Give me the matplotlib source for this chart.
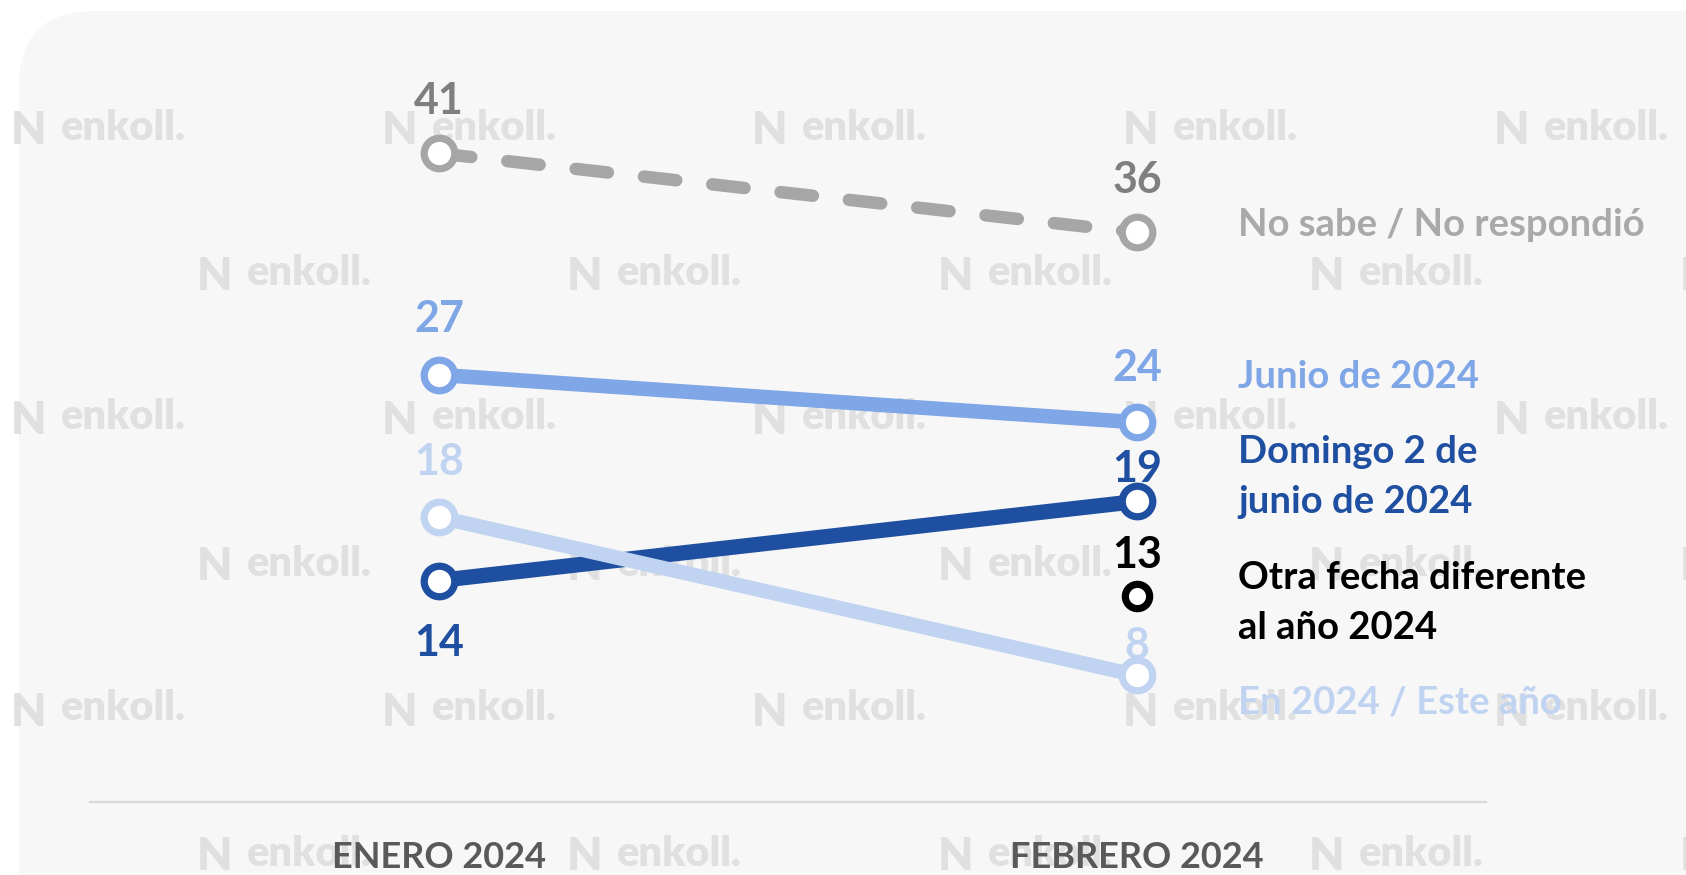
import numpy as np
import matplotlib.pyplot as plt
from matplotlib.patches import FancyBboxPatch

#Data
months = ['ENERO 2024', 'FEBRERO 2024']
no_sabe = [41, 36]
junio = [27, 24]
domingo = [14, 19]
en_2024 = [18, 8]
otra_fecha = [13]

series_names = ['No sabe / No respondió', 'Junio de 2024', 'Domingo 2 de\njunio de 2024',
                'Otra fecha diferente\nal año 2024', 'En 2024 / Este año']

#Colors
c_gray = '#a6a6a6'
c_gray_txt = '#7f7f7f'
c_mid = '#7fa6e6'
c_dark = '#1f4fa0'
c_light = '#c0d4f2'
c_black = '#000000'
bg = '#f7f7f7'

plt.rcParams['font.family'] = ['Lato', 'DejaVu Sans']
plt.rcParams['font.weight'] = 'bold'

W, H = 1686, 875
fig = plt.figure(figsize=(W/100, H/100), dpi=100)
fig.patch.set_facecolor('white')

#Rounded background panel (figure pixels)
panel = FancyBboxPatch((19/W, -0.2), 2.0, 1.2 - 11/H,
                       boxstyle='round,pad=0,rounding_size=0.045',
                       transform=fig.transFigure, facecolor=bg, edgecolor='none',
                       mutation_aspect=W/H, zorder=0)
fig.patches.append(panel)

#Watermarks
rows_y = [-14, 131, 277, 421, 567, 712, 857]
base_cols = [11, 382, 752, 1123, 1494]
offset_cols = [-174, 197, 567, 938, 1309, 1680]
for r, yy in enumerate(rows_y):
    cols = offset_cols if r % 2 == 0 else base_cols
    for xx in cols:
        fig.text(xx/W, 1 - yy/H, 'N', fontsize=33, color='#e0e0e0', ha='left',
                 va='center', fontweight='heavy', zorder=1)
        fig.text((xx + 50)/W, 1 - yy/H + 0.004, 'enkoll.', fontsize=30, color='#e0e0e0',
                 ha='left', va='center', fontweight='heavy', zorder=1)

#Main axes mapped so that x=0 / x=1 land on the two months
ax = fig.add_axes([0, 0, 1, 1], zorder=2)
ax.set_facecolor('none')
ax.set_xlim(-439/698, (W - 439)/698)
ax.set_ylim((802 - H)/15.82, 802/15.82)
ax.axis('off')

x = np.arange(len(months))

#Baseline
ax.plot([-0.5, 1.5], [0, 0], color='#d9d9d9', lw=1.6, zorder=2)

mk = dict(marker='o', markerfacecolor='white', markersize=22, markeredgewidth=5.2)
ax.plot(x, no_sabe, color=c_gray, lw=9, dashes=(2.6, 2.9), dash_capstyle='round',
        markeredgecolor=c_gray, zorder=3, **mk)
ax.plot(x, junio, color=c_mid, lw=10.5, markeredgecolor=c_mid, zorder=3, **mk)
ax.plot(x, domingo, color=c_dark, lw=11, markeredgecolor=c_dark, zorder=3, **mk)
ax.plot(x, en_2024, color=c_light, lw=10.5, markeredgecolor=c_light, zorder=4, **mk)
ax.plot([1], otra_fecha, color=c_black, lw=0, marker='o', markerfacecolor='white',
        markersize=17.5, markeredgewidth=5.2, markeredgecolor=c_black, zorder=5)

#Data labels (offsets in points)
def lab(xv, yv, dy, color):
    ax.annotate(str(yv), (xv, yv), xytext=(0, dy), textcoords='offset points',
                ha='center', va='center', fontsize=31, color=color, fontweight='bold', zorder=6)

lab(0, no_sabe[0], 38, c_gray_txt)
lab(1, no_sabe[1], 38, c_gray_txt)
lab(0, junio[0], 40, c_mid)
lab(1, junio[1], 39, c_mid)
lab(0, en_2024[0], 40, c_light)
lab(1, en_2024[1], 21, c_light)
lab(0, domingo[0], -45, c_dark)
lab(1, domingo[1], 23, c_dark)
lab(1, otra_fecha[0], 30, c_black)

#Series names on the right
name_y = [36.47, 26.86, 20.54, 12.58, 6.32]
name_c = ['#a9a9a9', c_mid, c_dark, c_black, c_light]
for name, yy, cc in zip(series_names, name_y, name_c):
    ax.text(1.145, yy, name, ha='left', va='center', fontsize=27.5, color=cc,
            fontweight='bold', linespacing=1.55, zorder=6)

#Category labels
for xi, m in zip(x, months):
    ax.text(xi, -3.5, m, ha='center', va='center', fontsize=26, color='#595959',
            fontweight='bold', zorder=6)

fig.savefig('out.png', dpi=100, facecolor='white')
